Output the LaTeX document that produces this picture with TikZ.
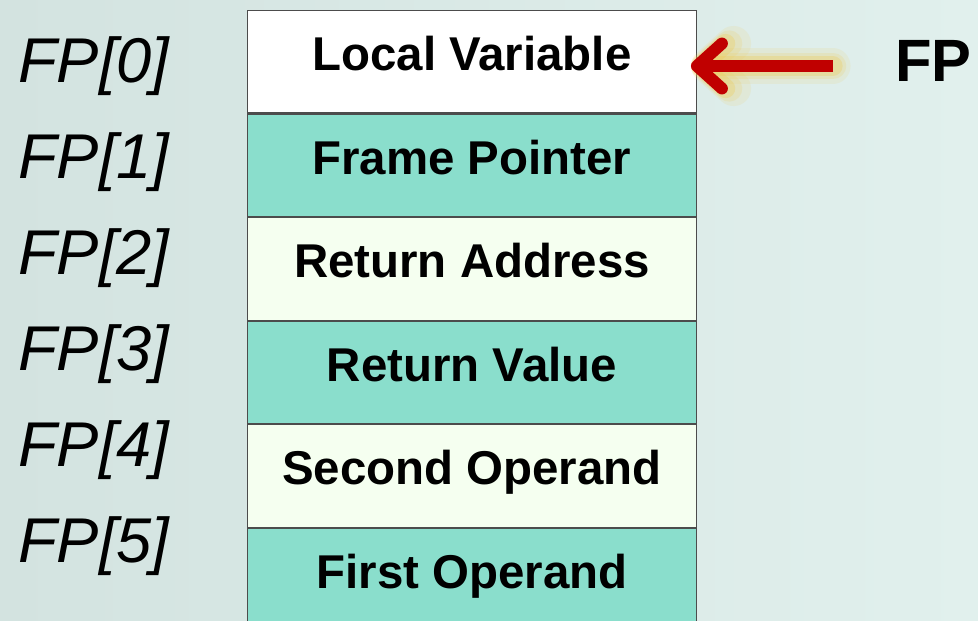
\documentclass[tikz,border=0pt]{standalone}
\usepackage{fontspec}
\setmainfont{Liberation Sans}
\usepackage{xcolor}
\usetikzlibrary{positioning,arrows.meta}
\definecolor{bgl}{HTML}{D3E3E0}
\definecolor{bgr}{HTML}{E1F0ED}
\definecolor{slotdark}{HTML}{8ADECC}
\definecolor{slotlight}{HTML}{F5FFF0}
\definecolor{ptrred}{HTML}{C00000}
\definecolor{glowy}{HTML}{EFCB55}

\begin{document}
\begin{tikzpicture}[x=0.02cm, y=-0.02cm,
	slot/.style = {draw=black!70, line width=0.6pt, minimum width=8.98cm, minimum height=2.05cm, inner sep=0pt, text height=20pt, text depth=10pt, font=\bfseries\fontsize{27}{30}\selectfont},
	idx/.style = {anchor=west, inner sep=0pt, font=\itshape\fontsize{36}{40}\selectfont},
	ptrarrow/.style = {line width=6.8pt, -{Straight Barb[length=0.5cm, width=0.9cm, round]}, shorten >=-0.12cm}]
							\clip (0,0) rectangle (978,620);
							\shade[left color=bgl, right color=bgr] (0,0) rectangle (978,620);
							\node[idx] (i0) at (18,66) {FP[0]};
							\node[idx] (i1) at (18,162) {FP[1]};
							\node[idx] (i2) at (18,258) {FP[2]};
							\node[idx] (i3) at (18,354) {FP[3]};
							\node[idx] (i4) at (18,450) {FP[4]};
							\node[idx] (i5) at (18,546) {FP[5]};
							\node[slot, fill=white, anchor=north west] (s0) at (247,10) {Local Variable};
							\node[slot, fill=slotdark, below=0pt of s0] (s1) {Frame Pointer};
							\node[slot, fill=slotlight, below=0pt of s1] (s2) {Return Address};
							\node[slot, fill=slotdark, below=0pt of s2] (s3) {Return Value};
							\node[slot, fill=slotlight, below=0pt of s3] (s4) {Second Operand};
							\node[slot, fill=slotdark, below=0pt of s4] (s5) {First Operand};
							\node[anchor=west, inner sep=0pt, font=\bfseries\fontsize{34}{40}\selectfont] (fp) at (895,61) {FP};
							\coordinate (tail) at (833,66);
							\foreach \w/\o in {20pt/0.12, 15pt/0.18, 11pt/0.3}
								\draw[ptrarrow, glowy, line width=\w, line cap=round, opacity=\o] (tail) -- (s0.east |- tail);
							\draw[ptrarrow, ptrred] (tail) -- (s0.east |- tail);
							\end{tikzpicture}
\end{document}
